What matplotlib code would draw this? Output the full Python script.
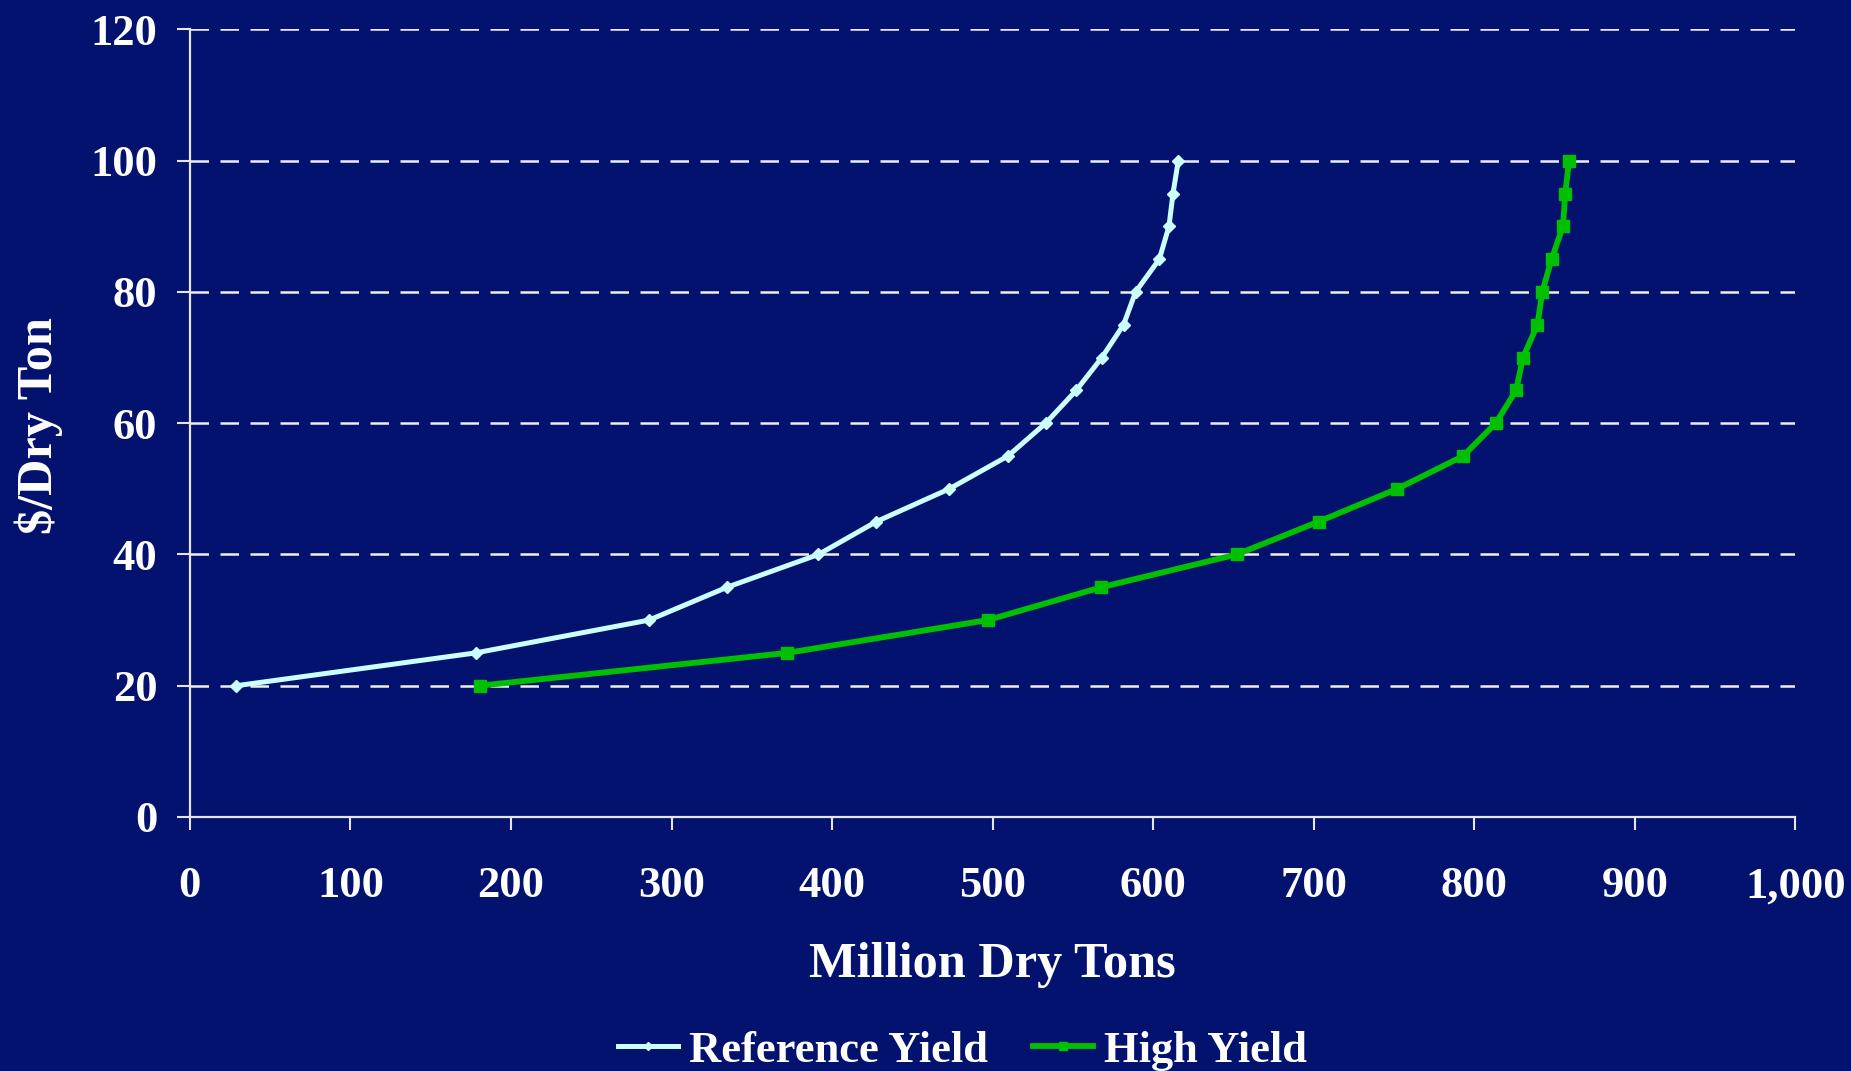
import matplotlib
matplotlib.use("Agg")
import matplotlib.pyplot as plt
from matplotlib.ticker import FuncFormatter

# price levels ($/dry ton) and supply (million dry tons) at each price
price = [20, 25, 30, 35, 40, 45, 50, 55, 60, 65, 70, 75, 80, 85, 90, 95, 100]
reference_yield = [29, 178, 286, 334.5, 391.5, 427.5, 473, 509.5, 533, 552, 568,
                   581.5, 589, 603.8, 609.8, 612.3, 615.6]
high_yield = [180.6, 372, 497, 567.6, 652, 703, 752, 793, 813.3, 826, 830.3,
              839.3, 842.3, 848.1, 855.2, 856.6, 859]

bg = "#03126f"
plt.rcParams["font.family"] = ["Liberation Serif", "DejaVu Serif"]
plt.rcParams["font.weight"] = "bold"

fig = plt.figure(figsize=(18.51, 10.71), dpi=100, facecolor=bg)
ax = fig.add_axes([0.1026, 0.2372, 0.8674, 0.7353])
ax.set_facecolor(bg)

ax.plot(reference_yield, price, color="#ccffff", lw=3.6, marker="D", ms=6,
        mec="#ccffff", mfc="#ccffff", label="Reference Yield", zorder=3)
ax.plot(high_yield, price, color="#00c000", lw=4.2, marker="s", ms=8.5,
        mec="#00c000", mfc="#00c000", label="High Yield", zorder=3)

ax.set_xlim(0, 1000)
ax.set_ylim(0, 120)
ax.set_xticks(range(0, 1001, 100))
ax.set_yticks(range(0, 121, 20))
ax.xaxis.set_major_formatter(FuncFormatter(lambda v, p: f"{int(v):,}"))

# dashed horizontal gridlines above the zero line
for y in range(20, 121, 20):
    ax.axhline(y, color="#eeeeee", lw=1.8, dashes=(7.4, 4.6), zorder=1)

for s in ["top", "right"]:
    ax.spines[s].set_visible(False)
for s in ["left", "bottom"]:
    ax.spines[s].set_color("#e6e6e6")
    ax.spines[s].set_linewidth(1.6)

ax.tick_params(axis="both", colors="#e6e6e6", length=9.5, width=1.5,
               labelsize=32, labelcolor="white")
ax.tick_params(axis="x", pad=26)
ax.tick_params(axis="y", pad=14)

fig.text(0.536, 0.099, "Million Dry Tons", ha="center", va="center",
         fontsize=36.3, color="white", fontweight="bold")
fig.text(0.021, 0.603, "$/Dry Ton", ha="center", va="center", rotation=90,
         fontsize=36.3, color="white", fontweight="bold")

leg = fig.legend(loc="center", bbox_to_anchor=(0.52, 0.019), ncol=2,
                 frameon=False, fontsize=32, labelcolor="white",
                 handlelength=1.35, handletextpad=0.25, columnspacing=1.0,
                 markerscale=0.7)

fig.savefig("out.png", dpi=100, facecolor=bg)
